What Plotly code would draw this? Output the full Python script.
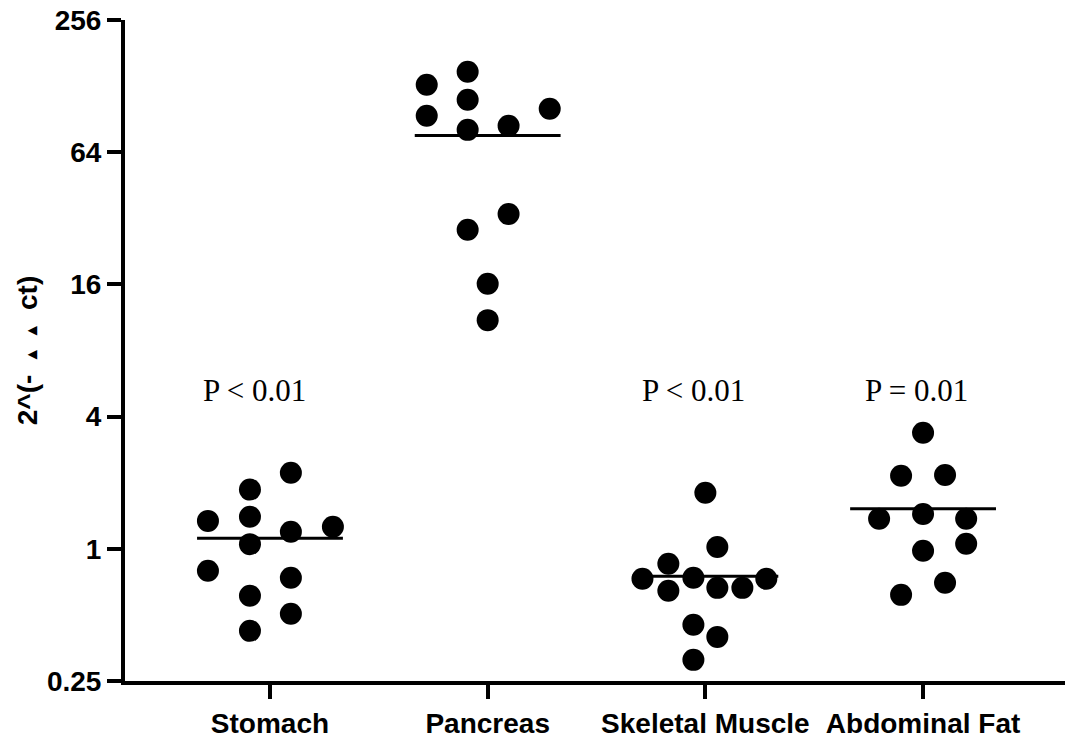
import numpy as np
import plotly.graph_objects as go

# Tissue groups and relative expression values, 2^(-ΔΔct)
categories = ["Stomach", "Pancreas", "Skeletal Muscle", "Abdominal Fat"]

stomach = [1.34, 1.86, 1.40, 1.05, 2.22, 1.195, 1.26, 0.794, 0.611, 0.423, 0.738, 0.506]
pancreas = [129.8, 93.8, 148.7, 110.9, 80.9, 84.4, 100.9, 28.4, 33.5, 16.1, 11.0]
skeletal_muscle = [1.80, 1.02, 0.855, 0.730, 0.644, 0.738, 0.664, 0.664, 0.730, 0.451, 0.397, 0.312]
abdominal_fat = [3.375, 2.15, 2.17, 1.37, 1.44, 1.37, 0.979, 1.054, 0.700, 0.617]

p_labels = ["P < 0.01", "", "P < 0.01", "P = 0.01"]

# Horizontal swarm slots (fraction of category spacing) so dots don't overlap
swarm = [
    [-0.285, -0.092, -0.092, -0.092, 0.096, 0.096, 0.289, -0.285, -0.092, -0.092, 0.096, 0.096],
    [-0.280, -0.280, -0.092, -0.092, -0.092, 0.096, 0.285, -0.092, 0.096, 0.0, 0.0],
    [0.0, 0.055, -0.170, -0.289, -0.170, -0.055, 0.055, 0.170, 0.280, -0.055, 0.055, -0.055],
    [0.0, -0.101, 0.101, -0.202, 0.0, 0.198, 0.0, 0.198, 0.101, -0.101],
]

groups = [stomach, pancreas, skeletal_muscle, abdominal_fat]

fig = go.Figure()

for i, (vals, offs) in enumerate(zip(groups, swarm)):
    fig.add_trace(go.Scatter(
        x=[i + o for o in offs],
        y=vals,
        mode="markers",
        marker=dict(size=22, color="black", line=dict(width=0)),
        showlegend=False,
        hoverinfo="y",
    ))
    m = float(np.mean(vals))
    fig.add_trace(go.Scatter(
        x=[i - 0.335, i + 0.335],
        y=[m, m],
        mode="lines",
        line=dict(color="black", width=3),
        showlegend=False,
        hoverinfo="skip",
    ))

label_x = [-0.07, 1.0, 1.945, 2.968]
for lx, txt in zip(label_x, p_labels):
    if txt:
        fig.add_annotation(
            x=lx, y=np.log10(5.25), text=txt, showarrow=False,
            xanchor="center", yanchor="middle",
            font=dict(family="Liberation Serif, Times New Roman, serif", size=31, color="black"),
        )

tick_font = dict(family="Liberation Sans, Arial, sans-serif", size=28, color="black")

sp = "\u00a0"
tri = '<span style="font-size:17px">▴</span>'
y_title = "<b>2^(-" + sp * 2 + tri + sp * 2 + tri + sp * 2 + "ct)</b>"

fig.update_layout(
    width=1065, height=740,
    margin=dict(l=125, r=0, t=20, b=59),
    paper_bgcolor="white", plot_bgcolor="white",
    xaxis=dict(
        range=[-0.666, 3.652],
        tickvals=[0, 1, 2, 3],
        ticktext=["<b>%s</b>" % c for c in categories],
        tickfont=tick_font,
        ticks="outside", ticklen=14, tickwidth=4, tickcolor="black",
        showline=True, linewidth=4, linecolor="black",
        showgrid=False, zeroline=False,
    ),
    yaxis=dict(
        type="log",
        range=[np.log10(0.25), np.log10(256)],
        tickvals=[0.25, 1, 4, 16, 64, 256],
        ticktext=["<b>0.25</b>", "<b>1</b>", "<b>4</b>", "<b>16</b>", "<b>64</b>", "<b>256</b>"],
        tickfont=tick_font,
        ticks="outside", ticklen=14, tickwidth=4, tickcolor="black",
        showline=True, linewidth=4, linecolor="black",
        showgrid=False, zeroline=False,
        title=dict(
            text=y_title,
            font=dict(family="Liberation Sans, Arial, sans-serif", size=28, color="black"),
            standoff=2,
        ),
    ),
)

fig.write_html("out.html")
